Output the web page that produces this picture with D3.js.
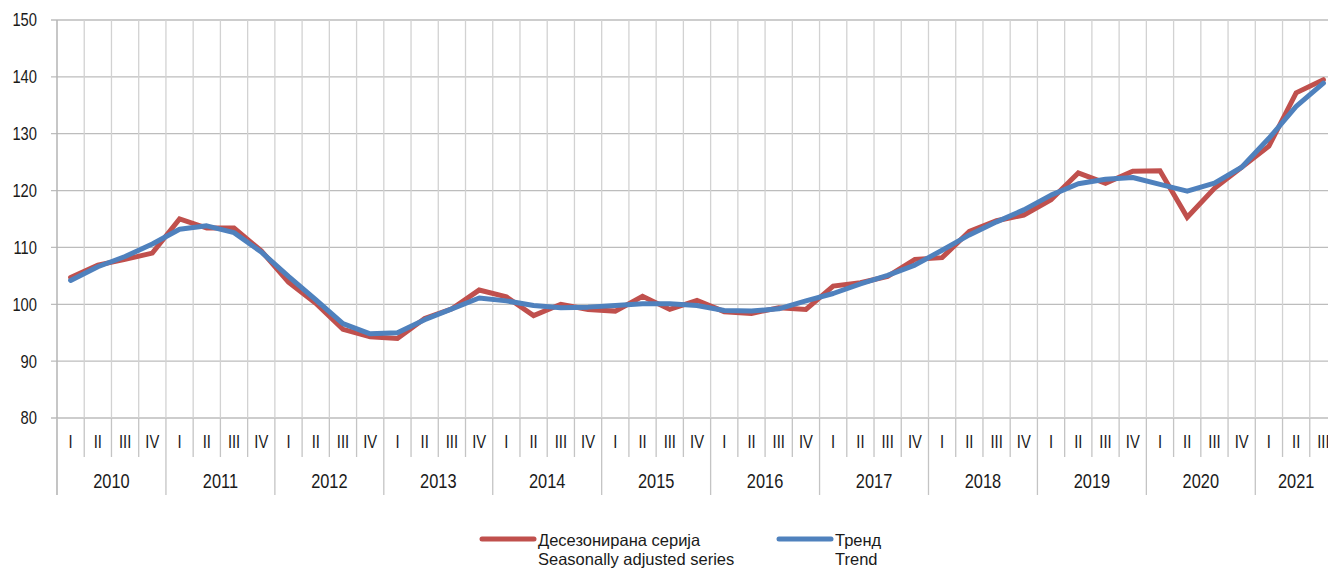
<!DOCTYPE html>
<html>
<head>
<meta charset="utf-8">
<script src="https://cdn.jsdelivr.net/npm/d3@7"></script>
<style>
  body { margin: 0; background: #fff; }
  svg { display: block; font-family: "Liberation Sans", Arial, sans-serif; }
</style>
</head>
<body>
<svg width="1328" height="572"></svg>
<script>
const years = ["2010", "2011", "2012", "2013", "2014", "2015", "2016", "2017", "2018", "2019", "2020", "2021"];
const quarterNames = ["I", "II", "III", "IV"];
const yTicks = [80, 90, 100, 110, 120, 130, 140, 150];

// seasonally adjusted series, 2010 Q1 .. 2021 Q3
const seasonal = [
  104.7, 106.9, 107.9, 109.0,
  115.0, 113.4, 113.4, 109.4,
  103.9, 100.2, 95.6, 94.3,
  94.0, 97.5, 99.2, 102.5,
  101.3, 98.0, 100.0, 99.1,
  98.8, 101.4, 99.1, 100.7,
  98.7, 98.4, 99.4, 99.1,
  103.2, 103.8, 104.9, 107.9,
  108.2, 112.8, 114.7, 115.7,
  118.4, 123.1, 121.3, 123.4,
  123.5, 115.3, 120.4, 124.1,
  127.8, 137.2, 139.5
];
const trend = [
  104.2, 106.6, 108.4, 110.6,
  113.2, 113.8, 112.6, 109.2,
  104.9, 100.8, 96.6, 94.8,
  95.0, 97.3, 99.2, 101.1,
  100.6, 99.8, 99.4, 99.5,
  99.8, 100.1, 100.1, 99.8,
  98.9, 98.8, 99.2, 100.6,
  101.9, 103.6, 105.1, 106.9,
  109.5, 112.2, 114.5, 116.6,
  119.2, 121.2, 122.0, 122.3,
  121.1, 119.9, 121.3, 124.1,
  129.2, 134.8, 138.9
];

const periods = seasonal.map((v, i) => ({
  key: i,
  year: years[Math.floor(i / 4)],
  q: quarterNames[i % 4]
}));

const margin = { left: 57, top: 20 };
const plotRight = 1337;
const plotBottom = 418;
const narrow = 0.82; // the original uses a condensed face

const svg = d3.select("svg");

const x = d3.scaleBand()
  .domain(periods.map(d => d.key))
  .range([margin.left, plotRight])
  .padding(0);

const y = d3.scaleLinear()
  .domain([80, 150])
  .range([plotBottom, margin.top]);

const bw = x.bandwidth();

// horizontal gridlines
svg.append("g")
  .selectAll("line")
  .data(yTicks)
  .enter()
  .append("line")
  .attr("x1", margin.left - 6)
  .attr("x2", plotRight)
  .attr("y1", d => y(d))
  .attr("y2", d => y(d))
  .attr("stroke", "#bdbdbd")
  .attr("stroke-width", 1.3);

// vertical gridlines at quarter boundaries
const bounds = periods.map(d => x(d.key)).concat([plotRight]);
svg.append("g")
  .selectAll("line")
  .data(bounds.slice(1))
  .enter()
  .append("line")
  .attr("x1", d => d)
  .attr("x2", d => d)
  .attr("y1", margin.top)
  .attr("y2", plotBottom)
  .attr("stroke", "#d2d2d2")
  .attr("stroke-width", 1.3);

// y axis line
svg.append("line")
  .attr("x1", margin.left).attr("x2", margin.left)
  .attr("y1", margin.top).attr("y2", 495)
  .attr("stroke", "#b4b4b4")
  .attr("stroke-width", 1.5);

// y labels
svg.append("g")
  .selectAll("text")
  .data(yTicks)
  .enter()
  .append("text")
  .attr("transform", d => `translate(${margin.left - 20},${y(d)}) scale(${narrow},1)`)
  .attr("dy", "0.36em")
  .attr("text-anchor", "end")
  .style("font-size", "18px")
  .attr("fill", "#1a1a1a")
  .text(d => d);

// quarter separators below the axis
svg.append("g")
  .selectAll("line")
  .data(bounds.filter((b, i) => i % 4 !== 0))
  .enter()
  .append("line")
  .attr("x1", d => d).attr("x2", d => d)
  .attr("y1", plotBottom).attr("y2", 457)
  .attr("stroke", "#c4c4c4")
  .attr("stroke-width", 1.3);

// year separators
svg.append("g")
  .selectAll("line")
  .data(bounds.filter((b, i) => i % 4 === 0))
  .enter()
  .append("line")
  .attr("x1", d => d).attr("x2", d => d)
  .attr("y1", plotBottom).attr("y2", 495)
  .attr("stroke", "#c4c4c4")
  .attr("stroke-width", 1.3);

// quarter labels
svg.append("g")
  .selectAll("text")
  .data(periods)
  .enter()
  .append("text")
  .attr("transform", d => `translate(${x(d.key) + bw / 2},448) scale(${narrow},1)`)
  .attr("text-anchor", "middle")
  .style("font-size", "18px")
  .attr("fill", "#1a1a1a")
  .text(d => d.q);

// year labels
const yearGroups = d3.groups(periods, d => d.year);
svg.append("g")
  .selectAll("text")
  .data(yearGroups)
  .enter()
  .append("text")
  .attr("transform", ([yr, ps]) => {
    const cx = (x(ps[0].key) + x(ps[ps.length - 1].key) + bw) / 2;
    return `translate(${cx},488) scale(${narrow},1)`;
  })
  .attr("text-anchor", "middle")
  .style("font-size", "20px")
  .attr("fill", "#1a1a1a")
  .text(([yr]) => yr);

// lines
const line = d3.line()
  .x((d, i) => x(i) + bw / 2)
  .y(d => y(d));

svg.append("path")
  .datum(seasonal)
  .attr("d", line)
  .attr("fill", "none")
  .attr("stroke", "#c0504d")
  .attr("stroke-width", 5)
  .attr("stroke-linejoin", "miter")
  .attr("stroke-linecap", "round");

svg.append("path")
  .datum(trend)
  .attr("d", line)
  .attr("fill", "none")
  .attr("stroke", "#4f81bd")
  .attr("stroke-width", 5)
  .attr("stroke-linejoin", "round")
  .attr("stroke-linecap", "round");

// legend
const legend = [
  { color: "#c0504d", x: 480, lines: ["Десезонирана серија", "Seasonally adjusted series"] },
  { color: "#4f81bd", x: 777, lines: ["Тренд", "Trend"] }
];
const lg = svg.append("g")
  .selectAll("g")
  .data(legend)
  .enter()
  .append("g")
  .attr("transform", d => `translate(${d.x},539)`);

lg.append("line")
  .attr("x1", 2).attr("x2", 54)
  .attr("y1", 0).attr("y2", 0)
  .attr("stroke", d => d.color)
  .attr("stroke-width", 5)
  .attr("stroke-linecap", "round");

lg.each(function (d) {
  const t = d3.select(this).append("text")
    .attr("x", 58)
    .attr("y", 7)
    .style("font-size", "16.5px")
    .attr("fill", "#1a1a1a");
  d.lines.forEach((s, i) => {
    t.append("tspan").attr("x", 58).attr("dy", i === 0 ? 0 : 19).text(s);
  });
});
</script>
</body>
</html>
